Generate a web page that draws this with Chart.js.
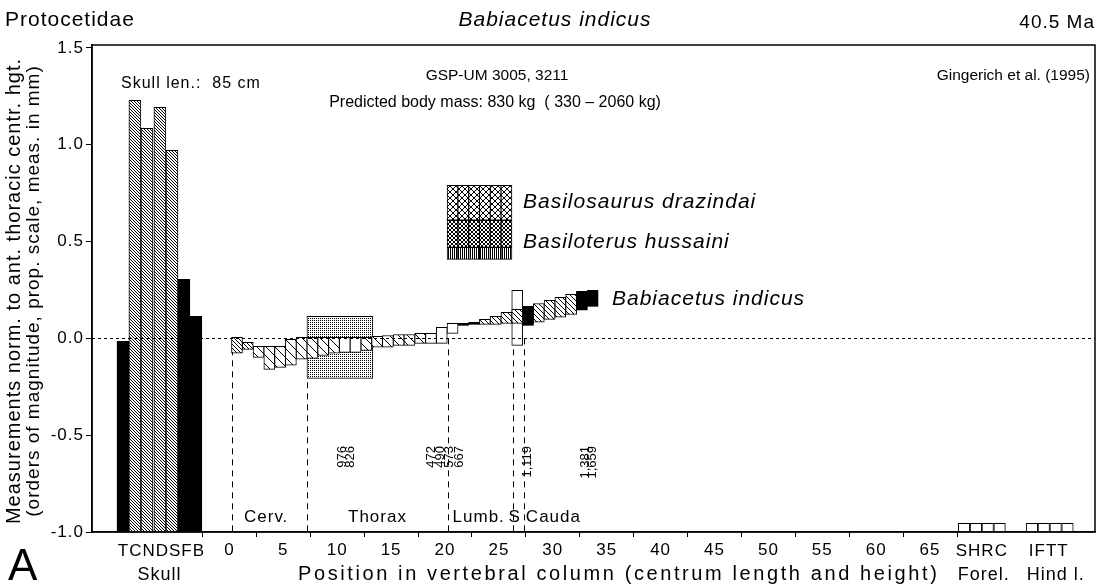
<!DOCTYPE html>
<html><head><meta charset="utf-8">
<script src="https://cdn.jsdelivr.net/npm/chart.js@4/dist/chart.umd.min.js"></script>
<style>html,body{margin:0;padding:0;background:#fff}#wrap{width:1105px;height:584px}</style>
</head><body><div id="wrap"><canvas id="c" width="1105" height="584"></canvas></div>
<script>
// ---------------- DATA ----------------
const skullLabels = ['T','C','N','D','S','F','B'];
const skullPos    = [-9.88,-8.77,-7.65,-6.45,-5.33,-4.22,-3.11];
const skullValues = [-0.015,1.229,1.085,1.193,0.971,0.305,0.114];
const skullStyle  = ['black','hatch','hatch','hatch','hatch','black','black'];
const baseValue   = -1.0;

const vertebraNumber = [1,2,3,4,5,6,7,8,9,10,11,12,13,14,15,16,17,18,19,20,21,22,23,24,25,26,27,28,29,30,31,32,33,34];
const vertebraLow  = [-0.077,-0.057,-0.098,-0.160,-0.150,-0.139,-0.108,-0.103,-0.088,-0.077,-0.072,-0.072,-0.062,-0.046,-0.046,-0.036,-0.036,-0.026,-0.026,-0.026,0.026,0.067,0.072,0.072,0.072,0.077,0.077,0.067,0.083,0.098,0.110,0.124,0.145,0.165];
const vertebraHigh = [0.005,-0.021,-0.041,-0.041,-0.041,-0.005,0.005,0.005,0.005,0.005,0.005,0.005,0.005,0.010,0.015,0.020,0.020,0.026,0.026,0.057,0.077,0.077,0.083,0.098,0.114,0.134,0.150,0.165,0.180,0.196,0.212,0.227,0.243,0.248];
const vertebraStyle = ['dense','dense','wide','wide','wide','wide','wide','wide','wide','wide','white','white','wide','wide','wide','wide','wide','wide','white','white','white','black','black','med','med','med','med','black','med','med','med','med','black','black'];

const sacralOutline = {vertebra:27, low:-0.036, high:0.248};
const comparisonRange = {from:7.2, to:13.3, low:-0.207, high:0.114};

const legendColumns = [21,22,23,24,25,26];
const basilosaurusRange = [0.61,0.79];
const basiloterusRange  = [0.47,0.61];
const stripRange        = [0.408,0.47];

const forelimbLabels = ['S','H','R','C'];
const forelimbPos   = [68.15,69.25,70.35,71.45];
const forelimbValues= [-0.955,-0.955,-0.955,-0.955];
const hindlimbLabels = ['I','F','T','T'];
const hindlimbPos   = [74.45,75.55,76.65,77.75];
const hindlimbValues= [-0.955,-0.955,-0.955,-0.955];

const regionBoundaries = [0.2,7.2,20.3,26.3,27.3];
const regionLabels = ['Cerv.','Thorax','Lumb.','S','Cauda'];
const regionLabelPos = [1.35,11.0,20.7,25.9,27.5];

const sizeLabels = ['976','826','472','490','573','667','1,119','1,381','1,659'];
const sizeLabelPos = [10.44,11.18,18.78,19.62,20.45,21.29,27.69,33.07,33.63];

const xTickValues = [0,5,10,15,20,25,30,35,40,45,50,55,60,65];
const yTickValues = [-1.0,-0.5,0.0,0.5,1.0,1.5];

// ---------------- PATTERNS ----------------
function pat(w,h,fn,bg){const c=document.createElement('canvas');c.width=w;c.height=h;const g=c.getContext('2d');if(bg){g.fillStyle=bg;g.fillRect(0,0,w,h);}g.strokeStyle='#000';g.fillStyle='#000';g.lineWidth=1;fn(g,w,h);return document.getElementById('c').getContext('2d').createPattern(c,'repeat');}
function diag(g,s){g.beginPath();for(let k=-s;k<=s;k+=s){g.moveTo(k,0);g.lineTo(k+s,s);}g.stroke();}
function adiag(g,s){g.beginPath();for(let k=-s;k<=2*s;k+=s){g.moveTo(k,0);g.lineTo(k-s,s);}g.stroke();}
const P = {
  hatch: pat(3,3,(g)=>diag(g,3),'#fff'),
  dense: pat(4,4,(g)=>diag(g,4),'#fff'),
  med:   pat(5,5,(g)=>diag(g,5),'#fff'),
  wide:  pat(9,9,(g)=>diag(g,9),'#fff'),
  black: '#000',
  white: '#fff',
  stipple: pat(2,2,(g)=>{g.fillRect(0,0,1,1);},'#fff'),
  cross: pat(6,6,(g)=>{diag(g,6);adiag(g,6);},'#fff'),
  cross2: pat(4,4,(g)=>{diag(g,4);adiag(g,4);},'#fff'),
  vlines: pat(2,2,(g)=>{g.fillRect(0,0,1,2);},'#fff')
};

// ---------------- DATASETS ----------------
const FONT = 'Liberation Sans, Arial, Helvetica, sans-serif';
const common = {borderColor:'#000',borderWidth:1,borderSkipped:false,grouped:false};
const ds = [];
['black','hatch'].forEach(st=>{
  ds.push(Object.assign({},common,{label:'skull '+st,order:5,barThickness:12,
    backgroundColor:P[st],
    data:skullPos.map((x,i)=>skullStyle[i]===st?{x:x,y:[baseValue,skullValues[i]]}:null).filter(Boolean)}));
});
ds.push(Object.assign({},common,{label:'comparison',order:30,barThickness:66,backgroundColor:P.stipple,
  data:[{x:(comparisonRange.from+comparisonRange.to)/2,y:[comparisonRange.low,comparisonRange.high]}]}));
ds.push(Object.assign({},common,{label:'sacral',order:25,barThickness:11,backgroundColor:'#fff',
  data:[{x:sacralOutline.vertebra-0.3,y:[sacralOutline.low,sacralOutline.high]}]}));
['white','dense','wide','med','black'].forEach(st=>{
  ds.push(Object.assign({},common,{label:'vert '+st,order:10,barThickness:11,backgroundColor:P[st],
    borderWidth: st==='black'?0.5:1,
    data:vertebraNumber.map((n,i)=>vertebraStyle[i]===st?{x:n-0.3,y:[vertebraLow[i],vertebraHigh[i]]}:null).filter(Boolean)}));
});
[[basilosaurusRange,P.cross],[basiloterusRange,P.cross2],[stripRange,P.vlines]].forEach(([r,f])=>{
  ds.push(Object.assign({},common,{label:'legend',order:10,barThickness:11,backgroundColor:f,
    data:legendColumns.map(n=>({x:n-0.3,y:r}))}));
});
ds.push(Object.assign({},common,{label:'forelimb',order:10,barThickness:11.5,backgroundColor:'#fff',
  data:forelimbPos.map((x,i)=>({x:x,y:[baseValue,forelimbValues[i]]}))}));
ds.push(Object.assign({},common,{label:'hindlimb',order:10,barThickness:11.5,backgroundColor:'#fff',
  data:hindlimbPos.map((x,i)=>({x:x,y:[baseValue,hindlimbValues[i]]}))}));

// ---------------- DECORATION PLUGIN ----------------
function txt(ctx,s,x,y,size,align,style,sp){ctx.letterSpacing=(sp===undefined?1:sp)+'px';ctx.font=(style||'')+' '+size+'px '+FONT;ctx.textAlign=align||'left';ctx.fillText(s,x,y);}
const deco = {
  id:'deco',
  beforeDraw(chart){chart.ctx.letterSpacing='1px';},
  beforeDatasetsDraw(chart){
    const {ctx,chartArea:a,scales:{x,y}}=chart;
    ctx.save();ctx.strokeStyle='#000';ctx.lineWidth=1;ctx.setLineDash([6,5]);
    regionBoundaries.forEach(v=>{const px=Math.round(x.getPixelForValue(v))+0.5;ctx.beginPath();ctx.moveTo(px,y.getPixelForValue(0));ctx.lineTo(px,a.bottom);ctx.stroke();});
    ctx.restore();
  },
  afterDatasetsDraw(chart){
    const {ctx,chartArea:a,scales:{x,y}}=chart;
    ctx.save();
    ctx.strokeStyle='#000';ctx.lineWidth=1;ctx.setLineDash([3,3]);
    const y0=Math.round(y.getPixelForValue(0))+0.5;
    ctx.beginPath();ctx.moveTo(a.left,y0);ctx.lineTo(a.right,y0);ctx.stroke();
    ctx.setLineDash([]);ctx.lineWidth=1.5;ctx.strokeRect(a.left,a.top,a.right-a.left,a.bottom-a.top);
    ctx.fillStyle='#000';ctx.textBaseline='alphabetic';
    txt(ctx,'Protocetidae',5,26,21);
    txt(ctx,'Babiacetus indicus',555,26,21,'center','italic');
    txt(ctx,'40.5 Ma',1095,28,19,'right');
    txt(ctx,'GSP-UM 3005, 3211',497,80,15.5,'center','',0);
    txt(ctx,'Predicted body mass: 830 kg  ( 330 \u2013 2060 kg)',495,107,16,'center','',0);
    txt(ctx,'Gingerich et al. (1995)',1090,80,15.5,'right','',0);
    txt(ctx,'Skull len.:  85 cm',121,88,16);
    txt(ctx,'Basilosaurus drazindai',523,208,21,'left','italic');
    txt(ctx,'Basiloterus hussaini',523,248,21,'left','italic');
    txt(ctx,'Babiacetus indicus',612,305,21,'left','italic');
    regionLabels.forEach((s,i)=>txt(ctx,s,x.getPixelForValue(regionLabelPos[i]),522,17));
    const sc=x.getPixelForValue((skullPos[0]+skullPos[6])/2);
    txt(ctx,skullLabels.join(''),sc+2,556,17,'center');
    txt(ctx,'Skull',sc,580,18,'center');
    const fc=x.getPixelForValue((forelimbPos[0]+forelimbPos[3])/2);
    txt(ctx,forelimbLabels.join(''),fc,556,17,'center');
    txt(ctx,'Forel.',fc+2,580,18,'center');
    const hc=x.getPixelForValue((hindlimbPos[0]+hindlimbPos[3])/2);
    txt(ctx,hindlimbLabels.join(''),hc-1,556,17,'center');
    txt(ctx,'Hind l.',hc+6,580,18,'center');
    txt(ctx,'Position in vertebral column (centrum length and height)',298,580,20,'left','',2.6);
    txt(ctx,'A',8,580,44,'left','',0);
    // rotated size labels
    sizeLabels.forEach((s,i)=>{ctx.save();ctx.translate(x.getPixelForValue(sizeLabelPos[i]),446);ctx.rotate(-Math.PI/2);ctx.letterSpacing='0px';ctx.font='13px '+FONT;ctx.textAlign='right';ctx.textBaseline='middle';ctx.fillText(s,0,0);ctx.restore();});
    // y title
    ctx.save();ctx.translate(14,291);ctx.rotate(-Math.PI/2);ctx.textBaseline='middle';
    txt(ctx,'Measurements norm. to ant. thoracic centr. hgt.',0,0,20,'center','',1);ctx.restore();
    ctx.save();ctx.translate(34,291);ctx.rotate(-Math.PI/2);ctx.textBaseline='middle';
    txt(ctx,'(orders of magnitude, prop. scale, meas. in mm)',0,0,19,'center','',1);ctx.restore();
    ctx.restore();
  }
};

new Chart(document.getElementById('c'),{
  type:'bar',
  data:{datasets:ds},
  options:{
    responsive:false,animation:false,devicePixelRatio:1,
    layout:{padding:{top:45,right:10,left:0,bottom:0}},
    plugins:{legend:{display:false},tooltip:{enabled:false}},
    scales:{
      x:{type:'linear',min:-12.75,max:80.3,offset:false,
        afterBuildTicks:s=>{s.ticks=xTickValues.map(v=>({value:v}));},
        afterFit:s=>{s.height=52;},
        grid:{drawOnChartArea:false,tickLength:5,color:'#000',lineWidth:1},
        border:{color:'#000',width:1.5},
        ticks:{color:'#000',font:{size:17,family:FONT},padding:3,maxRotation:0,autoSkip:false,callback:v=>String(v)}},
      y:{type:'linear',min:-1.0,max:1.515,
        afterBuildTicks:s=>{s.ticks=yTickValues.map(v=>({value:v}));},
        afterFit:s=>{s.width=92;},
        grid:{drawOnChartArea:false,tickLength:6,color:'#000',lineWidth:1},
        border:{color:'#000',width:1.5},
        ticks:{color:'#000',font:{size:17,family:FONT},padding:2,callback:v=>v.toFixed(1)}}
    }
  },
  plugins:[deco]
});
</script></body></html>
